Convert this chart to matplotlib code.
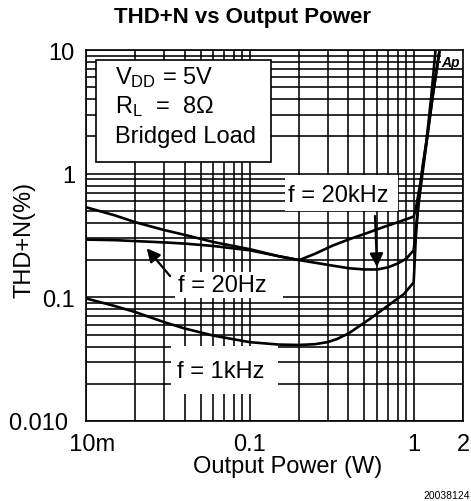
import matplotlib
matplotlib.use('Agg')
import matplotlib.pyplot as plt
from matplotlib.patches import Rectangle

plt.rcParams['font.family'] = ['Liberation Sans', 'DejaVu Sans']
plt.rcParams['mathtext.fontset'] = 'custom'
plt.rcParams['mathtext.rm'] = 'Liberation Sans'
plt.rcParams['mathtext.it'] = 'Liberation Sans:italic'

# THD+N (%) vs output power (W)
pwr_20hz = [0.01, 0.015, 0.02, 0.03, 0.04, 0.06, 0.1, 0.15, 0.2, 0.25, 0.32, 0.41,
            0.5, 0.65, 0.8, 1.0, 1.03, 1.1, 1.2, 1.3, 1.44]
thd_20hz = [0.293, 0.29, 0.285, 0.278, 0.272, 0.26, 0.24, 0.215, 0.2, 0.225, 0.262, 0.297,
            0.325, 0.369, 0.405, 0.45, 0.52, 0.85, 1.85, 4.1, 10]

pwr_20khz = [0.01, 0.015, 0.02, 0.03, 0.04, 0.06, 0.1, 0.15, 0.2, 0.3, 0.4, 0.5,
             0.6, 0.7, 0.8, 0.9, 1.0, 1.05, 1.1, 1.2, 1.3, 1.44]
thd_20khz = [0.535, 0.46, 0.405, 0.35, 0.32, 0.28, 0.245, 0.215, 0.2, 0.183, 0.172, 0.168,
             0.168, 0.175, 0.188, 0.205, 0.24, 0.45, 0.75, 1.8, 4.0, 10]

pwr_1khz = [0.01, 0.015, 0.02, 0.03, 0.04, 0.06, 0.1, 0.15, 0.2, 0.25, 0.3, 0.34, 0.4,
            0.47, 0.55, 0.65, 0.75, 0.87, 1.0, 1.03, 1.07, 1.13, 1.2, 1.28, 1.36]
thd_1khz = [0.098, 0.085, 0.076, 0.063, 0.056, 0.049, 0.0434, 0.0415, 0.0412, 0.0418, 0.0435,
            0.046, 0.051, 0.059, 0.068, 0.08, 0.092, 0.106, 0.132, 0.3, 0.6, 1.1, 1.9, 4.2, 10]

x_ticks = [0.01, 0.1, 1, 2]
x_labels = ['  10m', '0.1', '1', '2']
y_ticks = [0.01, 0.1, 1, 10]
y_labels = ['0.010 ', '0.1', '1', '10']
x_minor = [0.02, 0.03, 0.04, 0.05, 0.06, 0.07, 0.08, 0.09,
           0.2, 0.3, 0.4, 0.5, 0.6, 0.7, 0.8, 0.9]
y_minor = [0.02, 0.03, 0.04, 0.05, 0.06, 0.07, 0.08, 0.09,
           0.2, 0.3, 0.4, 0.5, 0.6, 0.7, 0.8, 0.9,
           2, 3, 4, 5, 6, 7, 8, 9]

W, H = 471, 502
L, R, T, B = 86, 463, 51, 422

fig = plt.figure(figsize=(W / 100, H / 100), dpi=100)
ax = fig.add_axes([L / W, (H - B) / H, (R - L) / W, (B - T) / H])
ax.set_xscale('log')
ax.set_yscale('log')
ax.set_xlim(0.01, 2)
ax.set_ylim(0.01, 10)

ax.set_xticks(x_ticks)
ax.set_xticklabels(x_labels)
ax.set_xticks(x_minor, minor=True)
ax.set_yticks(y_ticks)
ax.set_yticklabels(y_labels)
ax.set_yticks(y_minor, minor=True)
ax.tick_params(which='both', length=0)
ax.tick_params(axis='x', labelsize=17, pad=9)
ax.tick_params(axis='y', labelsize=17, pad=8)
ax.set_axisbelow(True)
ax.grid(which='both', color='black', linewidth=1.15)
for s in ax.spines.values():
    s.set_linewidth(1.2)


def px_rect(x0, y0, x1, y1, **kw):
    # pixel box -> axes fraction rectangle
    fx0 = (x0 - L) / (R - L)
    fx1 = (x1 - L) / (R - L)
    fy0 = (B - y1) / (B - T)
    fy1 = (B - y0) / (B - T)
    return Rectangle((fx0, fy0), fx1 - fx0, fy1 - fy0, transform=ax.transAxes, **kw)


def px_pt(x, y):
    return ((x - L) / (R - L), (B - y) / (B - T))


# white masks behind labels
mask = dict(facecolor='white', edgecolor='none', zorder=1.5)
ax.add_patch(px_rect(285, 175.8, 397.5, 211.7, **mask))
ax.add_patch(px_rect(175, 273, 283, 299.3, **mask))
ax.add_patch(px_rect(171, 346.8, 278, 395, **mask))
ax.add_patch(px_rect(441, 51, 463, 68, **mask))
ax.add_patch(px_rect(96, 61, 271, 163, facecolor='white', edgecolor='black',
                     linewidth=1.2, zorder=1.6))

# curves
for p, t in [(pwr_20hz, thd_20hz), (pwr_20khz, thd_20khz), (pwr_1khz, thd_1khz)]:
    ax.plot(p, t, color='black', linewidth=1.9, zorder=3, solid_joinstyle='round')

# condition text
ax.text(*px_pt(115, 84), r'V$_{\rm DD}$ = 5V', transform=ax.transAxes,
        fontsize=17, ha='left', va='baseline', zorder=4)
ax.text(*px_pt(115, 113), r'R$_{\rm L}$  =  8Ω', transform=ax.transAxes,
        fontsize=17, ha='left', va='baseline', zorder=4)
ax.text(*px_pt(115, 143), 'Bridged Load', transform=ax.transAxes,
        fontsize=17, ha='left', va='baseline', zorder=4)

# curve labels
ax.text(*px_pt(288, 201.7), 'f = 20kHz', transform=ax.transAxes,
        fontsize=17, ha='left', va='baseline', zorder=4)
ax.text(*px_pt(178, 291.7), 'f = 20Hz', transform=ax.transAxes,
        fontsize=17, ha='left', va='baseline', zorder=4)
ax.text(*px_pt(177, 378), 'f = 1kHz', transform=ax.transAxes,
        fontsize=17, ha='left', va='baseline', zorder=4)
ax.text(*px_pt(451, 63), 'Ap', transform=ax.transAxes, fontsize=10,
        fontweight='bold', fontstyle='italic', ha='center', va='center', zorder=4)

arrow = dict(arrowstyle='-|>', color='black', lw=1.6, mutation_scale=20,
             shrinkA=0, shrinkB=0)
ax.annotate('', xy=px_pt(146.7, 249.3), xytext=px_pt(170, 277),
            xycoords='axes fraction', textcoords='axes fraction', arrowprops=arrow, zorder=4)
ax.annotate('', xy=px_pt(377, 268), xytext=px_pt(375, 217),
            xycoords='axes fraction', textcoords='axes fraction', arrowprops=arrow, zorder=4)

ax.set_xlabel('Output Power (W)', fontsize=17, va='center')
ax.xaxis.set_label_coords((288 - L) / (R - L), (B - 467) / (B - T))
ax.set_ylabel('THD+N(%)', fontsize=17, va='center')
ax.yaxis.set_label_coords((24 - L) / (R - L), (B - 240) / (B - T))

fig.text(242.5 / W, 1 - 18 / H, 'THD+N vs Output Power', fontsize=16,
         fontweight='bold', ha='center', va='center')
fig.text(470 / W, 1 - 501 / H, '20038124', fontsize=7.5, ha='right', va='bottom')

fig.savefig('out.png', dpi=100)
